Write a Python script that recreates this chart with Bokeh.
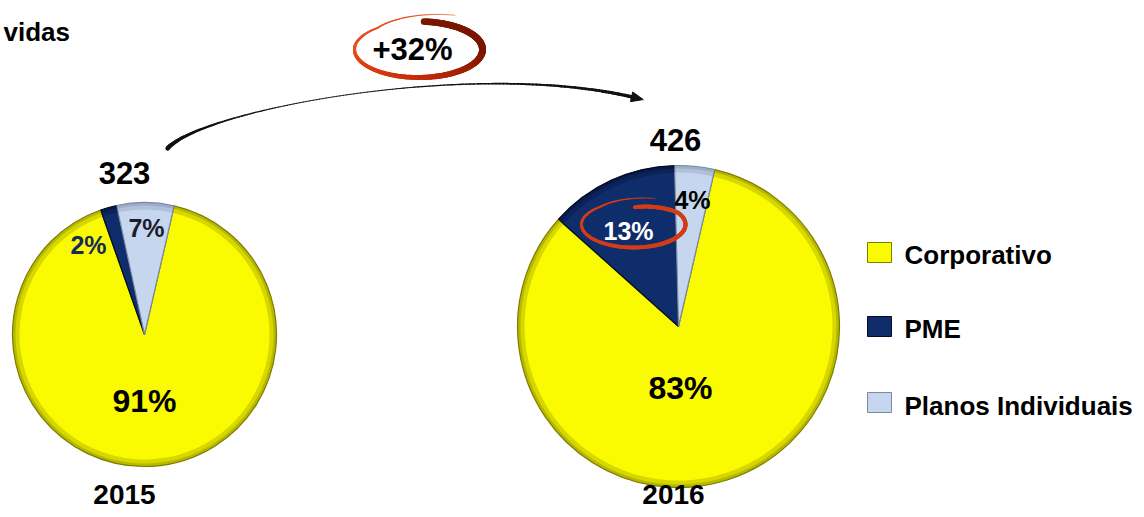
import numpy as np
from bokeh.plotting import figure
from bokeh.models import Range1d
from bokeh.core.properties import value
from bokeh.embed import file_html
from bokeh.resources import INLINE

# ---------------- data ----------------
years = ["2015", "2016"]
totals = [323, 426]
categories = ["Corporativo", "PME", "Planos Individuais"]
share_2015 = [91, 2, 7]
share_2016 = [83, 13, 4]
growth_label = "+32%"
unit_label = "vidas"

# ---------------- style ----------------
colors = ["#fafa00", "#0f2d6b", "#c5d6ee"]
rim_colors = ["#7e7e00", "#020c28", "#7a8aa6"]
label_colors = [["#000000", "#132a5a", "#1c1c2c"], ["#000000", "#ffffff", "#000000"]]
FONT = value("Liberation Sans")

W, H = 1136, 509


def Y(s):
    return H - np.asarray(s, dtype=float)


p = figure(width=W, height=H, x_range=Range1d(0, W), y_range=Range1d(0, H),
           output_backend="svg", toolbar_location=None, min_border=0,
           x_axis_type=None, y_axis_type=None)
p.grid.visible = False
p.outline_line_color = None
p.background_fill_color = "white"
p.border_fill_color = "white"

# ---------------- pies ----------------
pie_cx = [144, 678]
pie_cy = [334, 326]
pie_r = [132, 161]
start_deg = 77  # first slice starts here, slices run clockwise
pct_pos = [[(144, 400), (88, 244), (146, 227)], [(680, 387), (628, 230), (692, 199)]]
pct_size = [["32px", "25px", "25px"], ["32px", "25px", "25px"]]

for i, shares in enumerate([share_2015, share_2016]):
    fr = np.array(shares, dtype=float) / sum(shares)
    cum = np.concatenate([[0.0], np.cumsum(fr)])
    ends = np.radians(start_deg - cum[:-1] * 360)
    starts = np.radians(start_deg - cum[1:] * 360)
    cx, cy, r = pie_cx[i], pie_cy[i], pie_r[i]
    n = len(shares)
    p.wedge(x=[cx] * n, y=list(Y([cy] * n)), radius=r, start_angle=list(starts), end_angle=list(ends),
            fill_color=colors, line_color=rim_colors, line_width=1.2)
    # bevel / rim shading
    p.annular_wedge(x=[cx] * n, y=list(Y([cy] * n)), inner_radius=r - 7, outer_radius=r,
                    start_angle=list(starts), end_angle=list(ends),
                    fill_color=rim_colors, fill_alpha=0.28, line_color=None)
    p.annular_wedge(x=[cx] * n, y=list(Y([cy] * n)), inner_radius=r - 3, outer_radius=r,
                    start_angle=list(starts), end_angle=list(ends),
                    fill_color=rim_colors, fill_alpha=0.35, line_color=None)
    # percentage labels
    for k, v in enumerate(shares):
        x, y = pct_pos[i][k]
        p.text(x=[x], y=list(Y([y])), text=[f"{v}%"], text_font=FONT, text_font_style="bold",
               text_font_size=pct_size[i][k], text_color=label_colors[i][k],
               text_align="center", text_baseline="middle")

# totals and years
total_pos = [(124, 172), (675, 139)]
year_pos = [(124, 494), (673, 494)]
for i in range(2):
    p.text(x=[total_pos[i][0]], y=list(Y([total_pos[i][1]])), text=[str(totals[i])], text_font=FONT,
           text_font_style="bold", text_font_size="31px", text_color="black",
           text_align="center", text_baseline="middle")
    p.text(x=[year_pos[i][0]], y=list(Y([year_pos[i][1]])), text=[years[i]], text_font=FONT,
           text_font_style="bold", text_font_size="28px", text_color="black",
           text_align="center", text_baseline="middle")

p.text(x=[3], y=list(Y([31])), text=[unit_label], text_font=FONT, text_font_style="bold",
       text_font_size="26px", text_color="black", text_align="left", text_baseline="middle")


# ---------------- brush strokes ----------------
def stroke(xs, ys, ws, cols):
    xs = np.asarray(xs); ys = np.asarray(ys)
    p.segment(x0=list(xs[:-1]), y0=list(Y(ys[:-1])), x1=list(xs[1:]), y1=list(Y(ys[1:])),
              line_width=list(np.asarray(ws)[:-1]), line_color=list(cols[:-1]), line_cap="round")


def lerp_color(c1, c2, t):
    a = np.array([int(c1[j:j + 2], 16) for j in (1, 3, 5)], dtype=float)
    b = np.array([int(c2[j:j + 2], 16) for j in (1, 3, 5)], dtype=float)
    c = a + (b - a) * t
    return "#%02x%02x%02x" % tuple(int(round(v)) for v in c)


# curved arrow between the pies
t = np.linspace(0, 1, 160)
P0, P1, P2, P3 = np.array([167, 148]), np.array([200, 110]), np.array([470, 58]), np.array([634, 97])
B = ((1 - t) ** 3)[:, None] * P0 + (3 * (1 - t) ** 2 * t)[:, None] * P1 + \
    (3 * (1 - t) * t ** 2)[:, None] * P2 + (t ** 3)[:, None] * P3
w = np.where(t < 0.45, 0.9 + 3.4 * (1 - t / 0.45) ** 2, 0.9 + 2.6 * ((t - 0.45) / 0.55) ** 2)
stroke(B[:, 0], B[:, 1], w, ["#111111"] * len(t))
d = P3 - P2
d = d / np.hypot(*d)
nrm = np.array([-d[1], d[0]])
tip = P3 + d * 9
base = P3 - d * 3
p.patch(x=[tip[0], base[0] + nrm[0] * 5, base[0] - nrm[0] * 5],
        y=list(Y([tip[1], base[1] + nrm[1] * 5, base[1] - nrm[1] * 5])),
        fill_color="#111111", line_color="#111111")

# red ellipse around growth label
th = np.radians(np.linspace(65, 445, 220))
deg = np.degrees(th)
sc = 1 + 0.35 * np.clip((130 - deg) / 65, 0, 1)
ex = 418 + 64 * sc * np.cos(th)
ey = 49 - 28 * sc * np.sin(th)
ew = np.interp(deg, [65, 120, 180, 270, 360, 445], [0.5, 1.5, 3.2, 5.0, 7.0, 6.5])
ecol = [lerp_color("#ea4d1c", "#c42c08", np.clip((dd - 180) / 90, 0, 1)) if dd < 270 else
        lerp_color("#c42c08", "#7a1600", np.clip((dd - 270) / 90, 0, 1)) for dd in deg]
stroke(ex, ey, ew, ecol)
p.text(x=[412], y=list(Y([49])), text=[growth_label], text_font=FONT, text_font_style="bold",
       text_font_size="31px", text_color="black", text_align="center", text_baseline="middle")

# red ellipse around PME 2016 label
th2 = np.radians(np.linspace(70, 448, 200))
deg2 = np.degrees(th2)
sc2 = 1 + 0.2 * np.clip((130 - deg2) / 60, 0, 1) - 0.25 * np.clip((deg2 - 390) / 58, 0, 1)
fx = 633 + 52 * sc2 * np.cos(th2)
fy = 224 - 23 * sc2 * np.sin(th2)
fw = np.interp(deg2, [70, 130, 200, 300, 448], [0.6, 2.0, 3.2, 4.2, 4.0])
stroke(fx, fy, fw, ["#d23c16"] * len(deg2))

# ---------------- legend ----------------
leg_y = [252, 326, 402]
leg_text_y = [254, 328, 405]
p.rect(x=[879] * 3, y=list(Y(leg_y)), width=24, height=20, fill_color=colors,
       line_color=rim_colors, line_width=1)
p.text(x=[904] * 3, y=list(Y(leg_text_y)), text=categories, text_font=FONT, text_font_style="bold",
       text_font_size="26px", text_color="black", text_align="left", text_baseline="middle")

open("out.html", "w").write(file_html(p, INLINE))
